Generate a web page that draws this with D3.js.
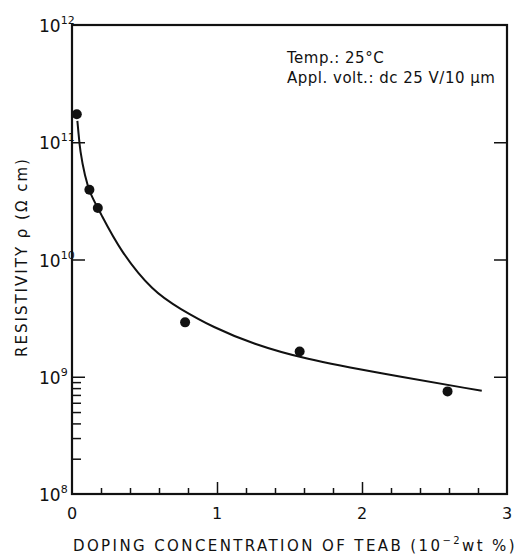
<!DOCTYPE html>
<html>
<head>
<meta charset="utf-8">
<script src="https://cdn.jsdelivr.net/npm/d3@7"></script>
<style>
  body { margin: 0; background: #fff; }
  text { font-family: "DejaVu Sans", sans-serif; fill: #111; }
</style>
</head>
<body>
<div id="chart"></div>
<script>
//Datos
const puntosX = [0.033, 0.12, 0.178, 0.78, 1.57, 2.59];
const puntosY = [1.73e11, 3.94e10, 2.75e10, 2.91e9, 1.64e9, 7.5e8];

//Curva ajustada (a mano)
const curvaX = [0.037, 0.045, 0.055, 0.09, 0.124, 0.193, 0.331, 0.559, 0.745, 0.972, 1.25, 1.6, 2.124, 2.826];
const curvaY = [1.52e11, 1.2e11, 8.55e10, 5.06e10, 3.66e10, 2.54e10, 1.19e10, 5.3e9, 3.8e9, 2.64e9, 1.9e9, 1.42e9, 1.07e9, 7.59e8];

const ticksX = [0, 1, 2, 3];
const ticksXMenores = [0.2, 0.4, 0.6, 0.8, 1.2, 1.4, 1.6, 1.8, 2.2, 2.4, 2.6, 2.8];
const exponentesY = [8, 9, 10, 11, 12];
const ticksYMenores = [2e8, 3e8, 4e8, 5e8, 6e8, 7e8, 8e8, 9e8];

let margin = {top: 25, right: 15, bottom: 61, left: 72},
    width = 522 - margin.left - margin.right,
    height = 555 - margin.top - margin.bottom;

let svg = d3.select("#chart")
    .append("svg")
      .attr("width", 522)
      .attr("height", 555);

let chart = svg.append("g")
    .attr("transform", "translate(" + margin.left + "," + margin.top + ")");

//Escalas
let x = d3.scaleLinear().domain([0, 3]).range([0, width]);
let y = d3.scaleLog().domain([1e8, 1e12]).range([height, 0]);

//Ticks eje X (hacia dentro)
chart.append("g")
    .attr("transform", "translate(0," + height + ")")
    .call(d3.axisBottom(x).tickValues([1, 2]).tickSize(-12).tickFormat(""))
    .call(g => g.select(".domain").remove());

chart.append("g")
    .attr("transform", "translate(0," + height + ")")
    .call(d3.axisBottom(x).tickValues(ticksXMenores).tickSize(-6).tickFormat(""))
    .call(g => g.select(".domain").remove());

//Ticks eje Y
chart.append("g")
    .call(d3.axisLeft(y).tickValues([1e9, 1e10, 1e11]).tickSize(-13).tickFormat(""))
    .call(g => g.select(".domain").remove());

chart.append("g")
    .call(d3.axisLeft(y).tickValues(ticksYMenores).tickSize(-9).tickFormat(""))
    .call(g => g.select(".domain").remove());

chart.append("g")
    .attr("transform", "translate(" + width + ",0)")
    .call(d3.axisRight(y).tickValues([1e9, 1e10, 1e11]).tickSize(-13).tickFormat(""))
    .call(g => g.select(".domain").remove());

chart.selectAll(".tick line").attr("stroke", "#111").attr("stroke-width", 1.5);

//Marco
chart.append("rect")
    .attr("x", 0).attr("y", 0)
    .attr("width", width).attr("height", height)
    .attr("fill", "none")
    .attr("stroke", "#111")
    .attr("stroke-width", 2.2);

//Etiquetas X
chart.selectAll(".xlab")
    .data(ticksX)
    .enter()
    .append("text")
    .attr("x", d => x(d))
    .attr("y", height + 25)
    .attr("text-anchor", "middle")
    .style("font-size", "16px")
    .text(d => d);

//Etiquetas Y (10^n)
let ylab = chart.selectAll(".ylab")
    .data(exponentesY)
    .enter()
    .append("text")
    .attr("x", -33)
    .attr("y", d => y(Math.pow(10, d)) + 7)
    .attr("text-anchor", "start")
    .style("font-size", "17px");

ylab.append("tspan").text("10");
ylab.append("tspan")
    .attr("dy", -8)
    .style("font-size", "11px")
    .text(d => d);

//Curva
let linea = d3.line()
    .x(d => x(d[0]))
    .y(d => y(d[1]))
    .curve(d3.curveBasis);

chart.append("path")
    .datum(curvaX.map((d, i) => [d, curvaY[i]]))
    .attr("d", linea)
    .attr("fill", "none")
    .attr("stroke", "#111")
    .attr("stroke-width", 2);

//Puntos
chart.selectAll(".punto")
    .data(puntosX.map((d, i) => [d, puntosY[i]]))
    .enter()
    .append("circle")
    .attr("cx", d => x(d[0]))
    .attr("cy", d => y(d[1]))
    .attr("r", 5)
    .attr("fill", "#111");

//Anotacion
let nota = chart.append("text")
    .attr("x", 215)
    .attr("y", 38)
    .style("font-size", "15px")
    .style("letter-spacing", "0.5px");
nota.append("tspan").text("Temp.: 25\u00b0C");
nota.append("tspan").attr("x", 215).attr("dy", 20).text("Appl. volt.: dc 25 V/10 \u03bcm");

//Titulo eje Y
svg.append("text")
    .attr("transform", "translate(27,257) rotate(-90)")
    .attr("text-anchor", "middle")
    .style("font-size", "15px")
    .style("letter-spacing", "2px")
    .text("RESISTIVITY  \u03c1  (\u03a9 cm)");

//Titulo eje X
let tx = svg.append("text")
    .attr("x", 517)
    .attr("y", 551)
    .attr("text-anchor", "end")
    .style("font-size", "15px")
    .style("letter-spacing", "2.4px");
tx.append("tspan").text("DOPING  CONCENTRATION  OF  TEAB  (10");
tx.append("tspan").attr("dy", -7).style("font-size", "10px").text("\u22122");
tx.append("tspan").attr("dy", 7).text("wt %)");
</script>
</body>
</html>
